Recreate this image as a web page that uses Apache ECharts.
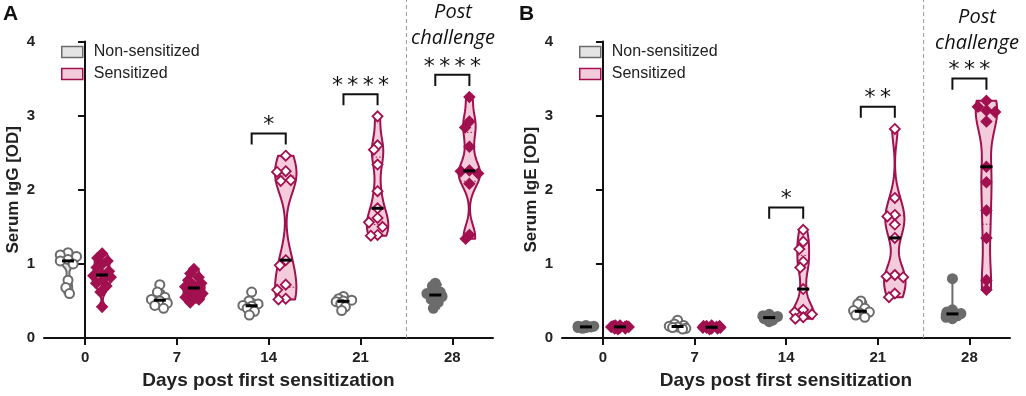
<!DOCTYPE html>
<html>
<head>
<meta charset="utf-8">
<script src="https://cdn.jsdelivr.net/npm/echarts@6/dist/echarts.min.js"></script>
<style>
html, body { margin: 0; padding: 0; background: #fff; }
#chart { width: 1026px; height: 396px; }
</style>
</head>
<body>
<div id="chart"></div>
<script>
// days of sampling
var days = [0, 7, 14, 21, 28];

// Serum IgG (OD), one list per day
var iggNonSensitized = [
    [1.15, 1.12, 1.1, 1.06, 1.04, 1.0, 0.78, 0.68, 0.6],
    [0.72, 0.62, 0.55, 0.52, 0.5, 0.47, 0.44, 0.4],
    [0.62, 0.5, 0.46, 0.44, 0.43, 0.4, 0.36, 0.31],
    [0.56, 0.53, 0.51, 0.5, 0.49, 0.46, 0.42, 0.37],
    [0.74, 0.7, 0.62, 0.6, 0.58, 0.56, 0.52, 0.48, 0.4]
];
var iggSensitized = [
    [1.14, 1.08, 1.04, 1.0, 0.95, 0.9, 0.86, 0.84, 0.82, 0.78, 0.74, 0.7, 0.62, 0.42],
    [0.93, 0.87, 0.82, 0.78, 0.74, 0.71, 0.69, 0.66, 0.63, 0.6, 0.57, 0.55, 0.52, 0.48],
    [2.46, 2.25, 2.24, 2.13, 2.12, 1.05, 0.98, 0.72, 0.65, 0.53, 0.52],
    [2.99, 2.6, 2.54, 2.34, 1.98, 1.75, 1.62, 1.56, 1.5, 1.39, 1.38],
    [3.25, 2.92, 2.84, 2.58, 2.26, 2.25, 2.22, 2.08, 1.39, 1.34]
];

// Serum IgE (OD)
var igeNonSensitized = [
    [0.17, 0.16, 0.16, 0.15, 0.15, 0.14, 0.14, 0.13],
    [0.24, 0.19, 0.17, 0.16, 0.15, 0.14, 0.13, 0.12],
    [0.32, 0.3, 0.29, 0.28, 0.27, 0.26, 0.24, 0.22],
    [0.5, 0.46, 0.4, 0.37, 0.35, 0.33, 0.31, 0.28],
    [0.8, 0.38, 0.35, 0.33, 0.32, 0.3, 0.28, 0.26]
];
var igeSensitized = [
    [0.17, 0.17, 0.16, 0.16, 0.15, 0.15, 0.15, 0.14, 0.14, 0.13, 0.13, 0.12],
    [0.17, 0.16, 0.16, 0.16, 0.15, 0.15, 0.14, 0.14, 0.14, 0.13, 0.13, 0.12],
    [1.46, 1.3, 1.2, 1.03, 0.95, 0.66, 0.38, 0.35, 0.32, 0.28, 0.26],
    [2.82, 1.89, 1.66, 1.64, 1.53, 1.35, 0.85, 0.83, 0.82, 0.6, 0.55],
    [3.2, 3.12, 3.07, 3.05, 2.92, 2.31, 2.1, 1.72, 1.35, 0.78, 0.65]
];

// significance marks
var iggStars = ['', '', '*', '****', '****'];
var igeStars = ['', '', '*', '**', '***'];

// look
var groupShift = 1.3;   // days left / right of the tick
var violinHalf = 0.82;  // max half width of a violin, in days
var grayLook = { line: '#6b6b6b', fill: '#e4e4e4', mark: 'circle' };
var redLook = { line: '#a1104f', fill: '#f3cbdb', mark: 'diamond' };

function quantile(sorted, q) {
    var pos = (sorted.length - 1) * q;
    var lo = Math.floor(pos), hi = Math.ceil(pos);
    return sorted[lo] + (sorted[hi] - sorted[lo]) * (pos - lo);
}

// violin + points, drawn through the axes
function violinRender(groups, side, look, filled) {
    return function (params, api) {
        var vals = groups[params.dataIndex].slice().sort(function (a, b) { return a - b; });
        var n = vals.length, lo = vals[0], hi = vals[n - 1];
        var xc = api.value(0) + side * groupShift;
        var cx = api.coord([xc, 0])[0];
        var halfW = api.size([violinHalf, 0])[0];

        var mean = 0;
        vals.forEach(function (v) { mean += v; });
        mean /= n;
        var sd = 0;
        vals.forEach(function (v) { sd += (v - mean) * (v - mean); });
        sd = Math.sqrt(sd / (n - 1));
        var iqr = quantile(vals, 0.75) - quantile(vals, 0.25);
        var spread = iqr > 0 ? Math.min(sd, iqr / 1.34) : sd;
        var bw = Math.max(0.55 * 0.9 * spread * Math.pow(n, -0.2), 0.006);

        function dens(y) {
            var s = 0;
            vals.forEach(function (v) { var z = (y - v) / bw; s += Math.exp(-0.5 * z * z); });
            return s;
        }
        var steps = 60, prof = [], peak = 0;
        for (var k = 0; k <= steps; k++) {
            var y = lo + (hi - lo) * k / steps;
            var d = dens(y);
            prof.push([y, d]);
            if (d > peak) peak = d;
        }
        function widthAt(y) { return Math.min(dens(y) / peak, 1) * halfW; }

        var leftSide = [], rightSide = [];
        prof.forEach(function (p) {
            var py = api.coord([xc, p[0]])[1];
            var w = p[1] / peak * halfW;
            leftSide.push([cx - w, py]);
            rightSide.unshift([cx + w, py]);
        });

        var children = [{
            type: 'polygon',
            shape: { points: leftSide.concat(rightSide) },
            style: { fill: look.fill, stroke: look.line, lineWidth: 2, lineJoin: 'round' }
        }];

        // quartile lines
        [0.25, 0.75].forEach(function (q) {
            var qv = quantile(vals, q);
            var py = api.coord([xc, qv])[1];
            var w = widthAt(qv);
            children.push({
                type: 'line',
                shape: { x1: cx - w, y1: py, x2: cx + w, y2: py },
                style: { stroke: look.line, lineWidth: 1, lineDash: [1.5, 2] }
            });
        });

        // points, spread sideways so they do not overlap
        var diam = 9, placed = [];
        vals.slice().reverse().forEach(function (v) {
            var py = api.coord([xc, v])[1];
            var lim = Math.max(widthAt(v) - 2, 0);
            var cands = [0, -5, 5, -10, 10, -15, 15];
            var best = 0, bestD = -1;
            for (var c = 0; c < cands.length; c++) {
                var ox = Math.max(-lim, Math.min(lim, cands[c]));
                var dmin = 1e9;
                placed.forEach(function (p) {
                    var dd = Math.sqrt((p[0] - ox) * (p[0] - ox) + (p[1] - py) * (p[1] - py));
                    if (dd < dmin) dmin = dd;
                });
                if (dmin >= diam) { best = ox; bestD = dmin; break; }
                if (dmin > bestD) { bestD = dmin; best = ox; }
            }
            placed.push([best, py]);
            var px = cx + best;
            var fill = filled[params.dataIndex] ? look.line : '#ffffff';
            if (look.mark === 'circle') {
                children.push({
                    type: 'circle',
                    shape: { cx: px, cy: py, r: 4.5 },
                    style: { fill: fill, stroke: look.line, lineWidth: 2 }
                });
            } else {
                var r = 5;
                children.push({
                    type: 'polygon',
                    shape: { points: [[px, py - r], [px + r, py], [px, py + r], [px - r, py]] },
                    style: { fill: fill, stroke: look.line, lineWidth: 1.8 }
                });
            }
        });

        // median
        var med = quantile(vals, 0.5);
        var my = api.coord([xc, med])[1];
        children.push({
            type: 'line',
            shape: { x1: cx - 6, y1: my, x2: cx + 6, y2: my },
            style: { stroke: '#000', lineWidth: 3 }
        });

        return { type: 'group', children: children };
    };
}

// brackets with stars
function statsRender(nonGroups, senGroups, stars) {
    return function (params, api) {
        var i = params.dataIndex;
        if (!stars[i]) return;
        var top = Math.max(Math.max.apply(null, nonGroups[i]), Math.max.apply(null, senGroups[i]));
        var x0 = api.value(0) - groupShift, x1 = api.value(0) + groupShift;
        var a = api.coord([x0, top + 0.15]);
        var b = api.coord([x0, top + 0.3]);
        var c = api.coord([x1, top + 0.3]);
        var d = api.coord([x1, top + 0.15]);
        return {
            type: 'group',
            children: [{
                type: 'polyline',
                shape: { points: [a, b, c, d] },
                style: { stroke: '#111', lineWidth: 2, fill: 'none' }
            }, {
                type: 'text',
                x: (b[0] + c[0]) / 2,
                y: b[1] - 8,
                style: {
                    text: stars[i].split('').join('\u2009'),
                    font: '22px "DejaVu Sans"',
                    fill: '#111',
                    align: 'center', verticalAlign: 'middle',
                    textAlign: 'center', textVerticalAlign: 'middle'
                }
            }]
        };
    };
}

// dashed line between sensitization and challenge
function dividerRender(params, api) {
    var p0 = api.coord([api.value(0), 0]);
    var p1 = api.coord([api.value(0), 4.6]);
    return {
        type: 'line',
        shape: { x1: p0[0], y1: p0[1], x2: p1[0], y2: p1[1] },
        style: { stroke: '#9a9a9a', lineWidth: 1, lineDash: [4, 3] }
    };
}

var chart = echarts.init(document.getElementById('chart'));

function xAxisFor(gi) {
    return {
        type: 'value', gridIndex: gi, min: -3.13, max: 31.1,
        axisLine: { show: true, onZero: false, lineStyle: { color: '#111', width: 2 } },
        axisTick: { show: true, customValues: days, length: 7, lineStyle: { color: '#111', width: 2 } },
        axisLabel: {
            customValues: days, margin: 12, color: '#222',
            fontFamily: 'Liberation Sans', fontWeight: 'bold', fontSize: 15
        },
        splitLine: { show: false },
        name: 'Days post first sensitization', nameLocation: 'middle', nameGap: 33,
        nameTextStyle: { fontFamily: 'Liberation Sans', fontWeight: 'bold', fontSize: 19, color: '#222' }
    };
}

function yAxisFor(gi, title) {
    return {
        type: 'value', gridIndex: gi, min: 0, max: 4, interval: 1,
        axisLine: { show: true, lineStyle: { color: '#111', width: 2 } },
        axisTick: { show: true, length: 7, lineStyle: { color: '#111', width: 2 } },
        axisLabel: { margin: 9, color: '#222', fontFamily: 'Liberation Sans', fontWeight: 'bold', fontSize: 15 },
        splitLine: { show: false },
        name: title, nameLocation: 'middle', nameGap: 22, nameRotate: 90,
        nameTextStyle: { fontFamily: 'Liberation Sans', fontWeight: 'bold', fontSize: 17, color: '#222' }
    };
}

function legendFor(left) {
    return {
        left: left, top: 39, orient: 'vertical', icon: 'rect',
        itemWidth: 21, itemHeight: 11, itemGap: 6,
        textStyle: { fontSize: 16, fontFamily: 'Liberation Sans', color: '#222', padding: [0, 0, 0, 6] },
        data: [
            { name: 'Non-sensitized', itemStyle: { color: grayLook.fill, borderColor: grayLook.line, borderWidth: 1.5 } },
            { name: 'Sensitized', itemStyle: { color: redLook.fill, borderColor: redLook.line, borderWidth: 1.5 } }
        ]
    };
}

var dayData = days.map(function (d) { return [d, 0]; });
var panels = [
    { non: iggNonSensitized, sen: iggSensitized, stars: iggStars,
      nonFilled: [false, false, false, false, true], senFilled: [true, true, false, false, true] },
    { non: igeNonSensitized, sen: igeSensitized, stars: igeStars,
      nonFilled: [true, false, true, false, true], senFilled: [true, true, false, false, true] }
];

var series = [];
panels.forEach(function (p, gi) {
    series.push({
        type: 'custom', name: 'divider', xAxisIndex: gi, yAxisIndex: gi,
        data: [[(days[3] + days[4]) / 2, 0]], encode: { x: 0, y: 1 },
        renderItem: dividerRender, silent: true
    });
    series.push({
        type: 'custom', name: 'Non-sensitized', xAxisIndex: gi, yAxisIndex: gi,
        data: dayData, encode: { x: 0, y: 1 },
        itemStyle: { color: grayLook.fill, borderColor: grayLook.line },
        renderItem: violinRender(p.non, -1, grayLook, p.nonFilled)
    });
    series.push({
        type: 'custom', name: 'Sensitized', xAxisIndex: gi, yAxisIndex: gi,
        data: dayData, encode: { x: 0, y: 1 },
        itemStyle: { color: redLook.fill, borderColor: redLook.line },
        renderItem: violinRender(p.sen, 1, redLook, p.senFilled)
    });
    series.push({
        type: 'custom', name: 'stats', xAxisIndex: gi, yAxisIndex: gi,
        data: dayData, encode: { x: 0, y: 1 },
        renderItem: statsRender(p.non, p.sen, p.stars), silent: true
    });
});

chart.setOption({
    animation: false,
    backgroundColor: '#fff',
    grid: [
        { left: 44, top: 41.5, width: 449, height: 296.5 },
        { left: 562, top: 41.5, width: 448, height: 296.5 }
    ],
    xAxis: [xAxisFor(0), xAxisFor(1)],
    yAxis: [yAxisFor(0, 'Serum IgG [OD]'), yAxisFor(1, 'Serum IgE [OD]')],
    legend: [legendFor(56), legendFor(574)],
    graphic: [
        { type: 'text', left: 3, top: 4, style: { text: 'A', font: 'bold 21px "Liberation Sans"', fill: '#111' } },
        { type: 'text', left: 519, top: 4, style: { text: 'B', font: 'bold 21px "Liberation Sans"', fill: '#111' } },
        { type: 'text', x: 453, y: 25, style: { text: 'Post\nchallenge', font: 'italic 20px "Open Sans"', lineHeight: 26,
            fill: '#111', align: 'center', verticalAlign: 'middle', textAlign: 'center', textVerticalAlign: 'middle' } },
        { type: 'text', x: 977, y: 30, style: { text: 'Post\nchallenge', font: 'italic 20px "Open Sans"', lineHeight: 26,
            fill: '#111', align: 'center', verticalAlign: 'middle', textAlign: 'center', textVerticalAlign: 'middle' } }
    ],
    series: series
});
</script>
</body>
</html>
